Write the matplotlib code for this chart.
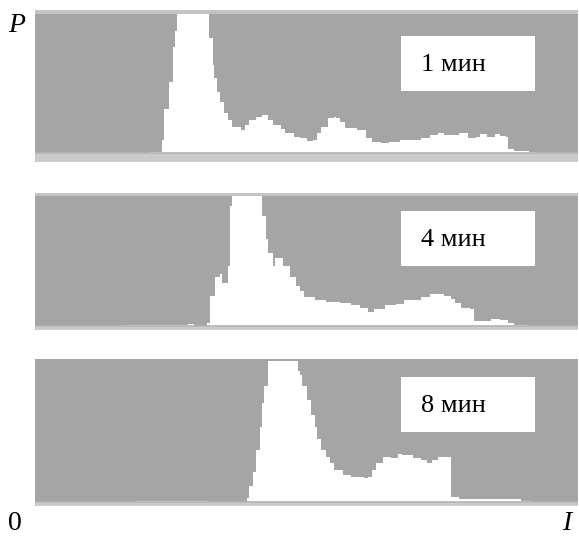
import numpy as np
import matplotlib.pyplot as plt
from matplotlib.patches import Rectangle

## dati: livelli di intensita' e altezze relative dell'istogramma (1 = fondo scala) ##
lev_1 = [0, 54, 60, 61, 63, 65, 66, 67, 82, 84, 84.5, 86, 87, 89, 91, 93, 97, 99, 101, 104, 107, 110,
         112, 116, 118, 122, 125, 128, 131, 133, 135, 138, 141, 142, 144, 146, 152, 156, 159, 163, 167,
         172, 182, 186, 190, 193, 200, 204, 208, 210, 213, 217, 219, 222, 223, 226, 233, 236, 256]
cnt_1 = [0, 0.01, 0.09, 0.32, 0.51, 0.76, 0.88, 1.0, 0.83, 0.63, 0.54, 0.44, 0.37, 0.29, 0.24, 0.19,
         0.165, 0.20, 0.24, 0.26, 0.27, 0.24, 0.20, 0.17, 0.145, 0.115, 0.11, 0.085, 0.095, 0.145, 0.19,
         0.25, 0.26, 0.25, 0.22, 0.18, 0.165, 0.11, 0.08, 0.07, 0.08, 0.095, 0.11, 0.13, 0.145, 0.13,
         0.145, 0.11, 0.115, 0.135, 0.115, 0.135, 0.12, 0.115, 0.03, 0.015, 0.007, 0, 0]

lev_4 = [0, 41, 72, 75, 81, 82.5, 85, 87, 88, 91, 92, 93, 107, 109, 110, 112, 113, 117, 120, 123, 125,
         127, 132, 137, 144, 149, 153, 157, 160, 165, 170, 174, 182, 186, 193, 196, 198, 201, 205, 207,
         215, 219, 222, 223, 226, 233, 256]
cnt_4 = [0, 0.01, 0.015, 0, 0.025, 0.23, 0.38, 0.40, 0.33, 0.46, 0.92, 1.0, 0.85, 0.67, 0.56, 0.46,
         0.52, 0.46, 0.38, 0.31, 0.27, 0.22, 0.20, 0.185, 0.18, 0.16, 0.14, 0.11, 0.13, 0.16, 0.17, 0.20,
         0.22, 0.25, 0.23, 0.21, 0.18, 0.14, 0.13, 0.04, 0.055, 0.05, 0.045, 0.025, 0.01, 0, 0]

lev_8 = [0, 47, 82, 100, 101, 103, 104, 106, 107, 108, 110, 124, 125, 126, 128, 130, 132, 133, 135, 137,
         139, 141, 145, 149, 155, 157, 159, 161, 164, 168, 171, 173, 178, 182, 185, 187, 190, 196, 200,
         229, 234, 256]
cnt_8 = [0, 0.01, 0, 0.03, 0.11, 0.21, 0.37, 0.53, 0.70, 0.82, 1.0, 0.93, 0.90, 0.82, 0.72, 0.62, 0.53,
         0.45, 0.37, 0.32, 0.28, 0.23, 0.19, 0.18, 0.17, 0.18, 0.23, 0.28, 0.32, 0.31, 0.34, 0.33, 0.31,
         0.30, 0.28, 0.30, 0.32, 0.035, 0.02, 0.01, 0, 0]

etichette = ["1 мин", "4 мин", "8 мин"]

W, H = 579, 537
fig = plt.figure("istogrammi", figsize=(W / 100, H / 100), dpi=100)

def px(x0, y0, x1, y1):
    # rettangolo in pixel (origine in alto a sinistra) -> coordinate figura
    return [x0 / W, 1 - y1 / H, (x1 - x0) / W, (y1 - y0) / H]

# (top pannello, top grigio, linea base, fondo pannello) in pixel
pannelli = [(10, 14, 153, 162), (193, 196, 326, 330), (359, 361, 502, 506)]
box_y = [(36, 91, 71), (211, 266, 246), (377, 432, 412)]
serie = [(lev_1, cnt_1), (lev_4, cnt_4), (lev_8, cnt_8)]

for (t, g, b, f), (lev, cnt), lab, (by0, by1, base) in zip(pannelli, serie, etichette, box_y):
    ax = fig.add_axes(px(35, t, 578, f))
    h = b - g
    ax.set_facecolor("#a5a5a5")
    ax.fill_between(lev, 0, cnt, step="post", color="white", lw=0)
    ax.axhspan(-1, 0, color="#cbcbcb", lw=0)
    ax.axhline(0, color="#b4b4b4", lw=1.2)
    if g - t > 2:
        ax.axhspan(1, 2, color="#c4c4c4", lw=0, zorder=0.5)
    ax.set_xlim(0, 256)
    ax.set_ylim(-(f - b) / h, 1 + (g - t) / h)
    ax.axis("off")
    ax.add_patch(Rectangle((0, ax.get_ylim()[0]), 256, 10, color="#a5a5a5", zorder=-1))
    # riquadro con il tempo
    fig.add_artist(Rectangle(px(401, by0, 535, by1)[:2], 134 / W, (by1 - by0) / H,
                             transform=fig.transFigure, color="white", lw=0))
    fig.text(421 / W, 1 - base / H, lab, fontsize=19, family="Liberation Serif", va="baseline")

fig.text(8 / W, 1 - 32 / H, "P", fontsize=20, family="Liberation Serif", style="italic", va="baseline")
fig.text(8 / W, 1 - 530 / H, "0", fontsize=20, family="Liberation Serif", va="baseline")
fig.text(562 / W, 1 - 530 / H, "I", fontsize=20, family="Liberation Serif", style="italic", va="baseline")

plt.savefig("out.png", dpi=100)
